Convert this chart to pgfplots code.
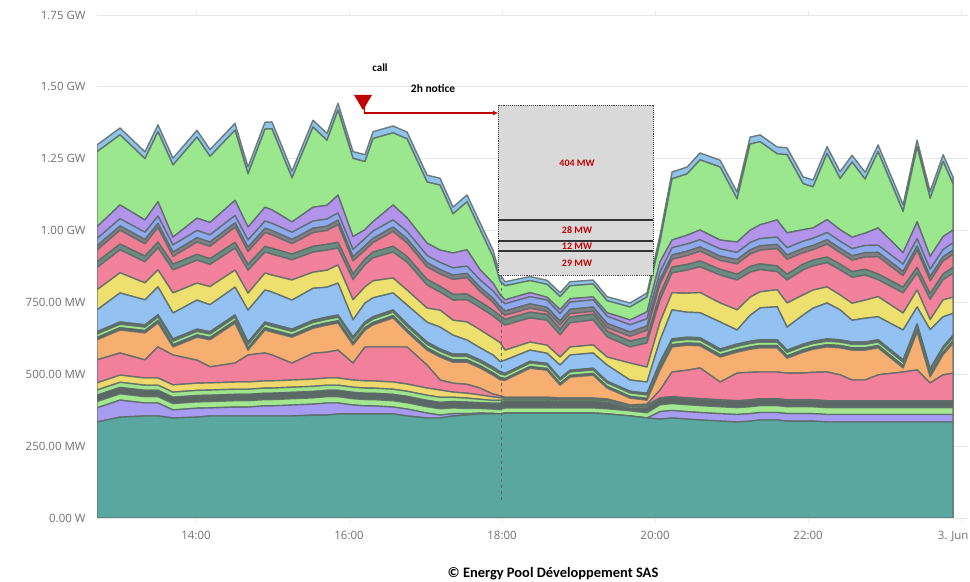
\documentclass[border=0pt]{standalone}
\usepackage{pgfplots}
\pgfplotsset{compat=1.18}
\usepackage{pgfplotstable}
\usepackage{fontspec}
\setmainfont{Open Sans}
\newfontfamily\calib{Carlito}
\usetikzlibrary{arrows.meta}

\definecolor{c1}{HTML}{5AA7A0}
\definecolor{c2}{HTML}{A89CF2}
\definecolor{c3}{HTML}{A3E88F}
\definecolor{c4}{HTML}{5B6866}
\definecolor{c5}{HTML}{9FE38C}
\definecolor{c6}{HTML}{EFD96C}
\definecolor{c7}{HTML}{F2809B}
\definecolor{c8}{HTML}{F6AE71}
\definecolor{c9}{HTML}{5C6A68}
\definecolor{c10}{HTML}{9FE78B}
\definecolor{c11}{HTML}{667573}
\definecolor{c12}{HTML}{93C1F2}
\definecolor{c13}{HTML}{EEE06E}
\definecolor{c14}{HTML}{F2829C}
\definecolor{c15}{HTML}{6C8C82}
\definecolor{c16}{HTML}{EE7E94}
\definecolor{c17}{HTML}{847F86}
\definecolor{c18}{HTML}{8EA9EE}
\definecolor{c19}{HTML}{B294EA}
\definecolor{c20}{HTML}{9BE78E}
\definecolor{c21}{HTML}{8FC3EA}
\definecolor{edge}{HTML}{5B6B68}
\definecolor{gridgray}{HTML}{E6E6E6}
\definecolor{labelgray}{HTML}{707070}
\definecolor{redc}{HTML}{C00000}
\definecolor{boxgray}{HTML}{D9D9D9}

% power per site, MW (stacked)
\pgfplotstableread{
x L1 L2 L3 L4 L5 L6 L7 L8 L9 L10 L11 L12 L13 L14 L15 L16 L17 L18 L19 L20 L21
12.706 334 49 22 22 18 25 80 70 8 12 8 76 70 77 20 41 15 25 41 261 24
13.007 351 59 22 22 18 25 77 80 8 12 8 101 70 80 20 48 15 25 48 244 24
13.333 355 45 22 22 18 25 63 94 8 12 8 87 59 73 20 43 15 25 43 213 24
13.503 355 45 22 22 18 25 108 84 8 12 8 97 59 77 20 50 15 25 50 244 24
13.699 348 28 22 22 18 25 104 28 8 12 8 90 70 80 20 27 15 25 27 251 24
14.013 351 31 22 22 18 25 80 80 8 12 8 101 59 80 20 43 15 25 43 282 24
14.183 355 28 22 22 18 25 56 94 8 12 8 94 63 77 20 43 15 25 43 230 24
14.510 355 31 22 22 18 25 66 139 8 12 8 97 59 77 20 53 15 25 53 244 24
14.680 355 31 22 22 18 25 94 17 8 12 8 111 59 80 20 45 15 25 45 185 24
14.902 355 35 22 22 18 25 97 80 8 12 8 111 59 73 20 48 15 25 48 272 24
14.993 355 35 22 22 18 25 90 80 8 12 8 111 59 73 20 47 15 25 47 282 24
15.255 355 38 22 22 18 25 59 90 8 12 8 101 70 70 20 36 15 25 36 153 24
15.529 358 38 22 22 18 25 90 87 8 12 8 111 56 70 20 48 15 25 48 279 24
15.712 358 42 22 22 18 25 90 94 8 12 8 104 59 70 20 48 15 25 48 226 24
15.856 362 38 22 22 18 25 97 94 8 12 8 111 63 59 20 62 15 25 62 296 24
16.052 362 31 22 22 18 25 59 63 8 12 8 59 70 70 20 45 15 25 45 272 24
16.209 362 28 22 22 18 25 118 59 8 12 8 66 56 77 20 31 15 25 31 237 24
16.314 362 28 22 22 18 25 118 77 8 12 8 66 59 80 20 33 15 25 33 289 24
16.575 362 24 22 22 18 25 122 101 8 12 8 59 52 90 20 52 15 25 52 251 24
16.758 355 24 22 22 18 25 129 52 8 12 8 66 52 97 20 47 15 25 47 275 24
17.020 348 17 22 22 18 25 80 52 8 12 8 69 49 80 20 43 15 25 43 213 24
17.190 348 10 22 22 18 25 35 80 8 12 8 76 59 63 20 43 15 25 43 226 24
17.359 355 8 20 22 15 18 31 73 8 12 8 66 52 70 20 52 15 25 52 136 24
17.542 358 5 18 22 14 17 31 77 8 12 8 49 63 77 20 57 15 25 57 167 24
17.712 362 3 16 20 12 15 24 70 8 12 8 42 63 77 20 36 15 25 36 140 24
17.882 362 2 15 20 10 12 10 66 8 12 8 42 59 77 20 27 15 25 27 91 24
17.974 362 0 15 22 10 9 7 56 8 12 8 35 66 73 20 17 15 25 17 46 24
18.039 365 0 18 24 6 4 3 59 6 12 6 46 35 87 20 14 15 25 14 49 14
18.366 365 0 18 24 6 4 3 101 6 12 6 39 28 84 20 14 15 25 14 42 14
18.588 365 0 18 24 6 4 3 94 6 12 6 35 28 87 20 10 15 25 10 45 14
18.758 365 0 18 21 6 4 3 45 6 12 6 46 28 77 20 14 15 25 14 45 14
18.889 365 0 18 21 6 4 3 73 6 12 6 53 28 84 20 12 15 25 12 45 14
19.190 365 0 18 21 6 4 3 80 6 12 6 53 28 87 20 10 15 25 10 45 14
19.373 362 0 18 21 6 4 3 38 6 12 6 56 28 70 20 12 15 25 12 42 14
19.673 355 0 18 7 6 4 3 24 6 12 6 39 59 56 20 17 15 25 17 45 14
19.895 348 0 18 17 6 4 3 14 6 12 6 39 52 84 20 24 15 25 24 52 14
20.065 344 26 24 20 2 2 27 70 8 12 8 76 63 77 20 36 15 25 36 70 24
20.222 348 26 24 20 2 2 86 87 8 12 8 101 59 70 20 27 15 25 27 213 24
20.418 344 26 24 20 2 2 96 87 8 12 8 87 66 80 20 31 15 25 31 213 24
20.588 341 26 24 20 2 2 107 77 8 12 8 87 70 90 20 34 15 25 34 244 24
20.850 337 26 24 20 2 2 62 87 8 12 8 94 66 97 20 31 15 25 31 254 24
21.072 334 26 24 20 2 2 96 73 8 12 8 49 70 104 20 36 15 25 36 150 24
21.242 337 26 24 20 2 2 96 80 8 12 8 90 63 87 20 43 15 25 43 300 24
21.373 341 26 24 20 2 2 93 84 8 12 8 111 56 77 20 48 15 25 48 289 24
21.595 341 26 24 20 2 2 93 84 8 12 8 115 59 63 20 60 15 25 60 230 24
21.725 337 26 24 20 2 2 93 52 8 12 8 80 84 80 20 52 15 25 52 272 24
21.935 337 26 24 20 2 2 93 73 8 12 8 101 70 87 20 40 15 25 40 160 24
22.065 337 26 24 20 2 2 96 80 8 12 8 115 63 84 20 36 15 25 36 143 24
22.248 334 26 24 20 2 2 100 87 8 12 8 125 56 84 20 45 15 25 45 230 24
22.418 334 26 24 20 2 2 90 94 8 12 8 104 52 87 20 40 15 25 40 178 24
22.575 334 26 24 20 2 2 72 104 8 12 8 76 59 90 20 40 15 25 40 261 24
22.745 334 26 24 20 2 2 72 104 8 12 8 83 63 87 20 43 15 25 43 188 24
22.915 334 26 24 20 2 2 90 94 8 12 8 80 70 59 20 60 15 25 60 265 24
23.242 334 26 24 20 2 2 100 14 8 12 8 104 59 70 20 40 15 25 40 143 24
23.425 334 26 24 20 2 2 107 132 8 12 8 59 59 59 20 59 15 25 59 261 24
23.595 334 26 24 20 2 2 62 21 8 12 8 136 35 70 20 45 15 25 45 202 24
23.765 334 26 24 20 2 2 90 70 8 12 8 104 59 70 20 45 15 25 45 261 24
23.895 334 26 24 20 2 2 96 104 8 12 8 76 56 84 20 45 15 25 45 160 24
}\sites

\begin{document}
\begin{tikzpicture}[lay/.style={draw=edge, draw opacity=0.85, line width=1.4bp, line join=round}]
\useasboundingbox (0,0) rectangle (970bp,582bp);
\begin{axis}[
    at={(97bp,64bp)}, anchor=south west,
    scale only axis, width=871bp, height=503bp,
    xmin=12.706, xmax=24.09, ymin=0, ymax=1750,
    stack plots=y,
    axis line style={draw=none},
    ytick={0,250,...,1750},
    yticklabels={0.00 W,250.00 MW,500.00 MW,750.00 MW,1.00 GW,1.25 GW,1.50 GW,1.75 GW},
    xtick={14,16,18,20,22,24},
    xticklabels={14:00,16:00,18:00,20:00,22:00,\hspace*{-16bp}3. Jun},
    ymajorgrids, grid style={draw=gridgray, line width=0.9bp},
    ticklabel style={font=\fontsize{11.5}{13}\selectfont, text=labelgray},
    ytick style={draw=none},
    xtick style={draw=gridgray, line width=0.8bp},
    tick align=outside, major tick length=4bp,
    xticklabel style={yshift=-6bp},
    yticklabel style={xshift=-4bp},
]
% anchors for the annotations, drawn after the axis
\coordinate (triL) at (axis cs:16.065,1472);
\coordinate (triR) at (axis cs:16.301,1472);
\coordinate (triB) at (axis cs:16.183,1419);
\coordinate (arrA) at (axis cs:16.20,1430);
\coordinate (arrB) at (axis cs:17.95,1409);
\coordinate (callT) at (axis cs:16.405,1566);
\coordinate (noticeT) at (axis cs:17.098,1493);
\coordinate (bxSW) at (axis cs:17.95,845);
\coordinate (bxNE) at (axis cs:19.975,1437);
\coordinate (s1) at (axis cs:17.95,1037);
\coordinate (s2) at (axis cs:17.95,964);
\coordinate (s3) at (axis cs:17.95,929);
\coordinate (bxR) at (axis cs:19.975,0);
\coordinate (t1) at (axis cs:18.98,1235);
\coordinate (t2) at (axis cs:18.98,1000);
\coordinate (t3) at (axis cs:18.98,946);
\coordinate (t4) at (axis cs:18.98,887);
\coordinate (vA) at (axis cs:17.99,63);
\coordinate (vB) at (axis cs:17.99,845);

\addplot[lay, fill=c1] table[x=x,y=L1] {\sites} \closedcycle;
\addplot[lay, fill=c2] table[x=x,y=L2] {\sites} \closedcycle;
\addplot[lay, fill=c3] table[x=x,y=L3] {\sites} \closedcycle;
\addplot[lay, fill=c4] table[x=x,y=L4] {\sites} \closedcycle;
\addplot[lay, fill=c5] table[x=x,y=L5] {\sites} \closedcycle;
\addplot[lay, fill=c6] table[x=x,y=L6] {\sites} \closedcycle;
\addplot[lay, fill=c7] table[x=x,y=L7] {\sites} \closedcycle;
\addplot[lay, fill=c8] table[x=x,y=L8] {\sites} \closedcycle;
\addplot[lay, fill=c9] table[x=x,y=L9] {\sites} \closedcycle;
\addplot[lay, fill=c10] table[x=x,y=L10] {\sites} \closedcycle;
\addplot[lay, fill=c11] table[x=x,y=L11] {\sites} \closedcycle;
\addplot[lay, fill=c12] table[x=x,y=L12] {\sites} \closedcycle;
\addplot[lay, fill=c13] table[x=x,y=L13] {\sites} \closedcycle;
\addplot[lay, fill=c14] table[x=x,y=L14] {\sites} \closedcycle;
\addplot[lay, fill=c15] table[x=x,y=L15] {\sites} \closedcycle;
\addplot[lay, fill=c16] table[x=x,y=L16] {\sites} \closedcycle;
\addplot[lay, fill=c17] table[x=x,y=L17] {\sites} \closedcycle;
\addplot[lay, fill=c18] table[x=x,y=L18] {\sites} \closedcycle;
\addplot[lay, fill=c19] table[x=x,y=L19] {\sites} \closedcycle;
\addplot[lay, fill=c20] table[x=x,y=L20] {\sites} \closedcycle;
\addplot[lay, fill=c21] table[x=x,y=L21] {\sites} \closedcycle;
\end{axis}

% call marker and notice arrow
\fill[redc] (triL) -- (triR) -- (triB) -- cycle;
\draw[redc, line width=1.6bp, -{Latex[length=5bp,width=5bp]}] (arrA) |- (arrB);
\node[font=\calib\bfseries\fontsize{11}{12}\selectfont] at (callT) {call};
\node[font=\calib\bfseries\fontsize{11.5}{12}\selectfont] at (noticeT) {2h notice};

% curtailed volumes
\draw[dashed, black!60, line width=0.8bp] (vA) -- (vB);
\filldraw[fill=boxgray, draw=black!75, densely dotted, line width=0.9bp] (bxSW) rectangle (bxNE);
\draw[black!80, line width=2bp] (s1) -- (s1 -| bxR);
\draw[black!80, line width=2bp] (s2) -- (s2 -| bxR);
\draw[black!80, line width=2bp] (s3) -- (s3 -| bxR);
\node[font=\calib\bfseries\fontsize{10}{10}\selectfont, text=redc] at (t1) {404 MW};
\node[font=\calib\bfseries\fontsize{10}{10}\selectfont, text=redc] at (t2) {28 MW};
\node[font=\calib\bfseries\fontsize{10}{10}\selectfont, text=redc] at (t3) {12 MW};
\node[font=\calib\bfseries\fontsize{10}{10}\selectfont, text=redc] at (t4) {29 MW};

\node[font=\calib\bfseries\fontsize{14.5}{15}\selectfont] at (553bp,8bp) {© Energy Pool Développement SAS};
\end{tikzpicture}
\end{document}
